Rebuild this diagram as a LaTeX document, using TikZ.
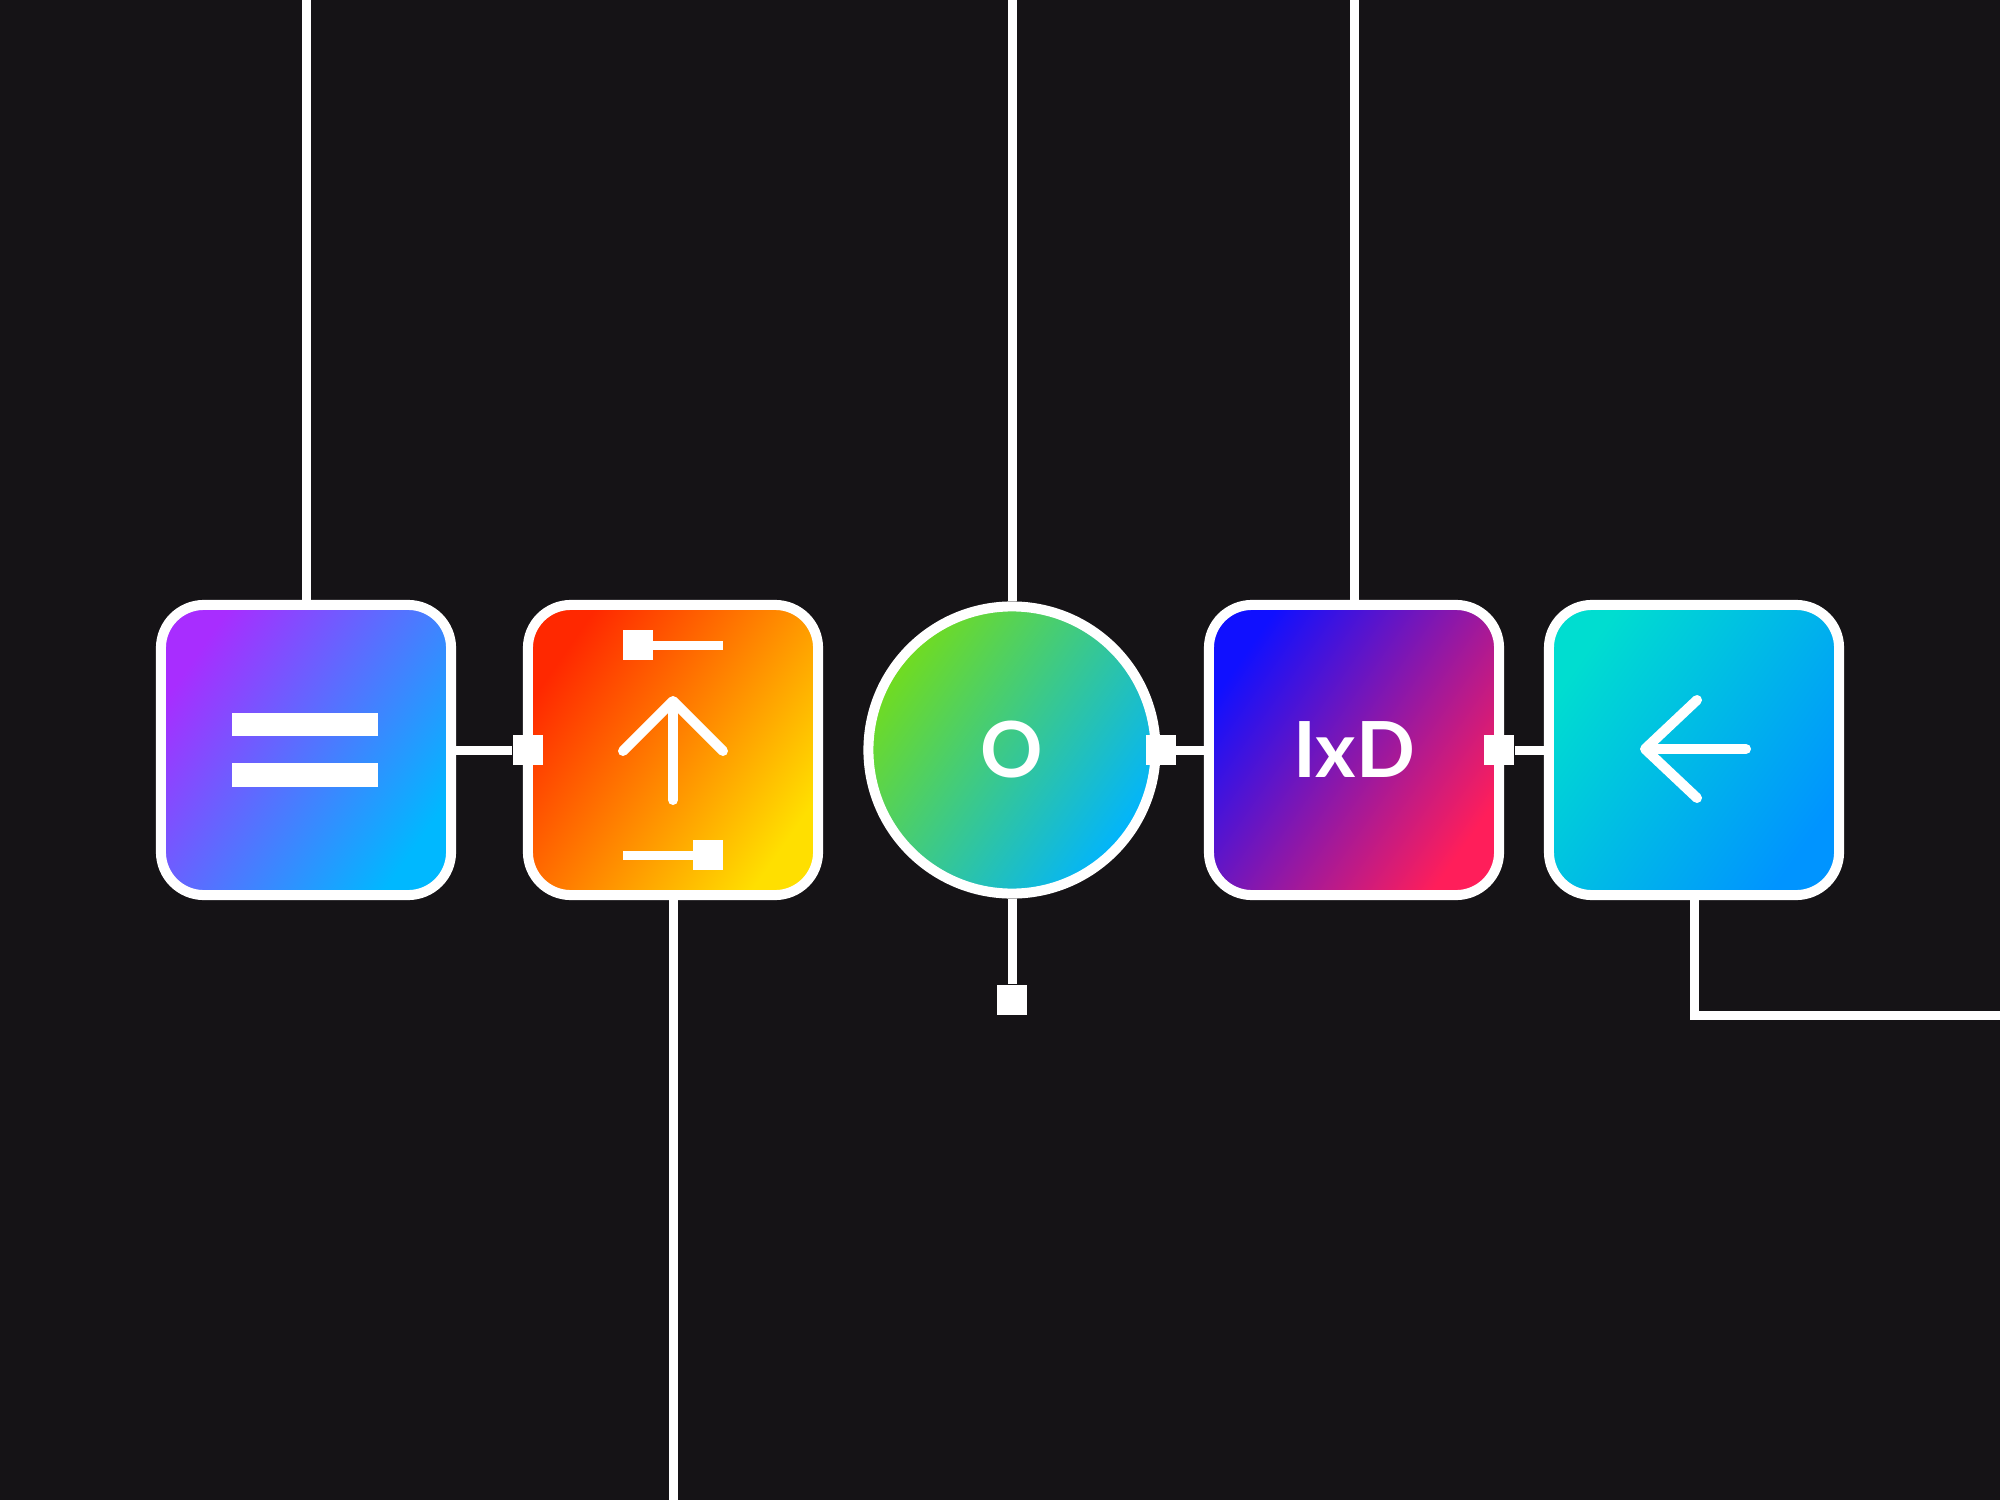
\documentclass[tikz,border=0pt]{standalone}
\usepackage{fontspec}
\newfontfamily\tagfont{Lato}
\definecolor{bgdark}{RGB}{21,19,22}
\definecolor{eqA}{RGB}{168,45,255}
\definecolor{eqB}{RGB}{0,184,255}
\definecolor{upA}{RGB}{255,40,0}
\definecolor{upB}{RGB}{255,223,0}
\definecolor{oA}{RGB}{114,220,30}
\definecolor{oB}{RGB}{0,180,255}
\definecolor{ixdA}{RGB}{16,16,255}
\definecolor{ixdB}{RGB}{255,30,90}
\definecolor{backA}{RGB}{0,221,208}
\definecolor{backB}{RGB}{0,148,255}

\tikzset{
  block/.style={draw=white, line width=1mm, rounded corners=4.3mm, minimum size=29mm, inner sep=0pt, text=white, font=\tagfont\bfseries\fontsize{22}{22}\selectfont},
  hub/.style={circle, draw=white, line width=1mm, minimum size=28.7mm, inner sep=0pt, text=white, font=\tagfont\bfseries\fontsize{22}{22}\selectfont},
  wire/.style={white, line width=0.9mm},
  pad/.style={fill=white, minimum size=3mm, inner sep=0pt},
  glyph/.style={white, line width=1mm, line cap=round, line join=round}
}

\begin{document}
\begin{tikzpicture}[x=0.01cm, y=-0.01cm]
  \fill[bgdark] (0,0) rectangle (2000,1500);
  \useasboundingbox (0,0) rectangle (2000,1500);
  % the five steps
  \node[block, top color=eqA, bottom color=eqB, shading angle=55] (eq) at (306,750) {};
  \node[block, top color=upA, bottom color=upB, shading angle=55] (up) at (673,750) {};
  \node[hub, top color=oA, bottom color=oB, shading angle=55] (o) at (1012,750) {O};
  \node[block, top color=ixdA, bottom color=ixdB, shading angle=55] (ixd) at (1354,750) {IxD};
  \node[block, top color=backA, bottom color=backB, shading angle=55] (back) at (1694,750) {};
  % loose ends
  \coordinate (eqin) at (306,-10);
  \coordinate (oin) at (1012,-10);
  \coordinate (ixdin) at (1354,-10);
  \coordinate (upout) at (673,1510);
  \coordinate (backout) at (2010,1015);
  \node[pad] (osq) at (1012,1000) {};
  \node[pad] (p1) at ([xshift=0.05cm]up.west) {};
  \node[pad] (p2) at (o.east) {};
  \node[pad] (p3) at ([xshift=-0.05cm]ixd.east) {};
  % connectors
  \draw[wire] (eqin) -- (eq);
  \draw[wire] (oin) -- (o);
  \draw[wire] (ixdin) -- (ixd);
  \draw[wire] (up) -- (upout);
  \draw[wire] (o) -- (osq);
  \draw[wire] (back.south) |- (backout);
  \draw[wire] (eq) -- (p1);
  \draw[wire] (p2) -- (ixd);
  \draw[wire] (p3) -- (back);
  % icon: equals
  \fill[white] (232,713) rectangle (378,736);
  \fill[white] (232,763) rectangle (378,787);
  % icon: move up
  \fill[white] (623,630) rectangle (653,660);
  \draw[wire] (653,645) -- (723,645);
  \draw[glyph] (623,751) -- (673,701) -- (723,751);
  \draw[glyph] (673,703) -- (673,800);
  \draw[wire] (623,855) -- (693,855);
  \fill[white] (693,840) rectangle (723,870);
  % icon: back
  \draw[glyph] (1697,700) -- (1645,749) -- (1697,798);
  \draw[glyph] (1647,749) -- (1746,749);
\end{tikzpicture}
\end{document}
